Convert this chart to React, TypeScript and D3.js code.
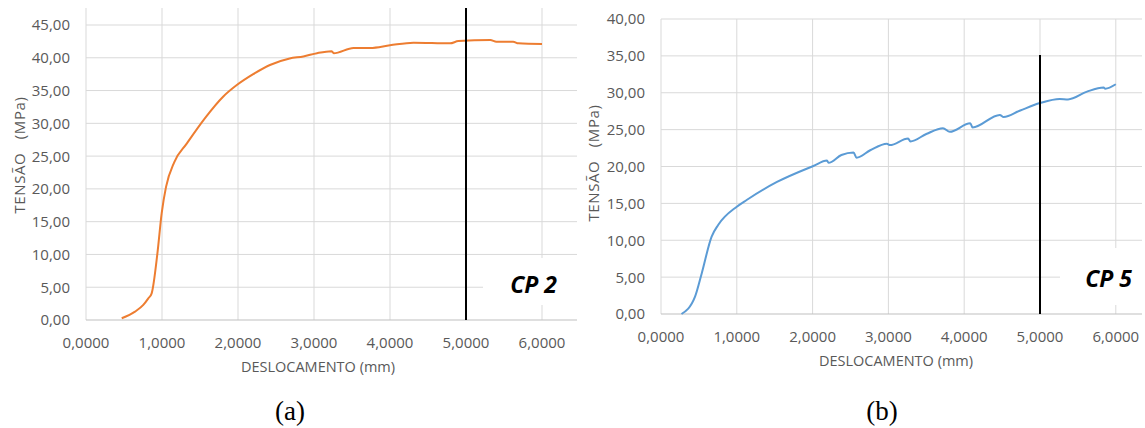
import React from 'react'
import * as d3 from 'd3'

// CP 2 (orange) - deslocamento (mm) x tensão (MPa)
const cp2X = [0.47, 0.645, 0.754, 0.82, 0.864, 0.94, 0.996, 1.053, 1.162, 1.325, 1.566, 1.807, 1.98, 2.2, 2.42, 2.68, 2.86, 3.04, 3.23, 3.26, 3.52, 3.74, 4.0, 4.31, 4.79, 4.9, 5.32, 5.4, 5.62, 5.69, 6.0]
const cp2Y = [0.26, 1.27, 2.3, 3.3, 4.07, 10.2, 16.3, 20.3, 24.1, 26.9, 30.8, 34.1, 35.8, 37.5, 38.9, 39.9, 40.2, 40.7, 41.0, 40.7, 41.5, 41.5, 41.9, 42.3, 42.2, 42.55, 42.7, 42.45, 42.45, 42.2, 42.1]

// CP 5 (blue)
const cp5X = [0.27, 0.449, 0.537, 0.668, 0.756, 1.0, 1.13, 1.53, 2.01, 2.19, 2.21, 2.38, 2.54, 2.58, 2.76, 2.98, 3.02, 3.26, 3.29, 3.5, 3.72, 3.81, 4.08, 4.11, 4.47, 4.52, 4.74, 5.0, 5.26, 5.37, 5.62, 5.84, 5.86, 6.0]
const cp5Y = [0.0, 2.35, 5.5, 10.5, 12.1, 14.55, 15.46, 17.9, 20.07, 20.8, 20.5, 21.56, 21.9, 21.2, 22.2, 23.1, 22.9, 23.8, 23.4, 24.4, 25.2, 24.7, 25.86, 25.3, 27.0, 26.7, 27.6, 28.6, 29.15, 29.1, 30.15, 30.7, 30.55, 31.15]

const xTicks = [0, 1, 2, 3, 4, 5, 6]
const yTicksA = [0, 5, 10, 15, 20, 25, 30, 35, 40, 45]
const yTicksB = [0, 5, 10, 15, 20, 25, 30, 35, 40]

const ptBR = d3.formatLocale({ decimal: ',', thousands: '.', grouping: [3], currency: ['', ''] })
const fmtY = ptBR.format('.2f')
const fmtX = ptBR.format('.4f')

const font = "'Open Sans', 'Liberation Sans', sans-serif"
const grid = '#d9d9d9'
const tickColor = '#595959'

type PanelProps = {
  xs: number[]
  ys: number[]
  yTicks: number[]
  color: string
  left: number
  right: number
  top: number
  y0: number
  yMaxPx: number
  yMax: number
  unitX: number
  markerTop: number
  label: string
  labelX: number
  labelY: number
  box: [number, number, number, number]
  xLabelY: number
  titleX: number
  titleY: number
  yTitleX: number
  yTitleY: number
}

const Panel = (p: PanelProps) => {
  const x = d3.scaleLinear().domain([0, 1]).range([p.left, p.left + p.unitX])
  const y = d3.scaleLinear().domain([0, p.yMax]).range([p.y0, p.yMaxPx])
  const pts = p.xs.map((v, i) => [v, p.ys[i]] as [number, number])
  const line = d3.line<[number, number]>().x(d => x(d[0])).y(d => y(d[1])).curve(d3.curveMonotoneX)

  return (
    <g>
      {/* vertical gridlines */}
      {xTicks.filter(t => t > 0).map(t => (
        <line key={'vx' + t} x1={x(t)} x2={x(t)} y1={p.top} y2={p.y0} stroke={grid} strokeWidth={1} />
      ))}
      {/* horizontal gridlines */}
      {p.yTicks.filter(t => t > 0).map(t => (
        <line key={'hy' + t} x1={p.left} x2={p.right} y1={y(t)} y2={y(t)} stroke={grid} strokeWidth={1} />
      ))}
      {/* axis lines */}
      <line x1={p.left} x2={p.left} y1={p.top} y2={p.y0} stroke={grid} strokeWidth={1} />
      <line x1={p.left} x2={p.right} y1={p.y0} y2={p.y0} stroke="#bfbfbf" strokeWidth={1.2} />

      {/* label box */}
      <rect x={p.box[0]} y={p.box[1]} width={p.box[2]} height={p.box[3]} fill="#fff" />

      <path d={line(pts) ?? ''} fill="none" stroke={p.color} strokeWidth={2} strokeLinejoin="round" />

      {/* marker at 5 mm */}
      <line x1={x(5)} x2={x(5)} y1={p.markerTop} y2={p.y0} stroke="#000" strokeWidth={2} />

      <text x={p.labelX} y={p.labelY} textAnchor="end" fontFamily={font} fontWeight={700} fontStyle="italic" fontSize={23} fill="#000">
        {p.label}
      </text>

      {p.yTicks.map(t => (
        <text key={'ty' + t} x={p.left - 16} y={y(t)} dy="0.36em" textAnchor="end" fontFamily={font} fontSize={15} fill={tickColor}>
          {fmtY(t)}
        </text>
      ))}
      {xTicks.map(t => (
        <text key={'tx' + t} x={x(t)} y={p.xLabelY} textAnchor="middle" fontFamily={font} fontSize={15} fill={tickColor}>
          {fmtX(t)}
        </text>
      ))}
      <text x={p.titleX} y={p.titleY} textAnchor="middle" fontFamily={font} fontSize={14.5} fill={tickColor}>
        DESLOCAMENTO (mm)
      </text>
      <text
        transform={`translate(${p.yTitleX},${p.yTitleY}) rotate(-90)`}
        textAnchor="middle"
        dy="0.36em"
        fontFamily={font}
        fontSize={15}
        letterSpacing={0.6}
        fill={tickColor}
        style={{ whiteSpace: 'pre' }}
      >
        {'TENSÃO   (MPa)'}
      </text>
    </g>
  )
}

const App = () => {
  return (
    <div style={{ position: 'absolute', left: 0, top: 0 }}>
      <svg width={1145} height={428} style={{ display: 'block', background: '#fff' }}>
        <Panel
          xs={cp2X}
          ys={cp2Y}
          yTicks={yTicksA}
          color="#ed7d31"
          left={86}
          right={577}
          top={8}
          y0={320}
          yMaxPx={25}
          yMax={45}
          unitX={76}
          markerTop={8}
          label="CP 2"
          labelX={557}
          labelY={293}
          box={[483, 258, 94, 47]}
          xLabelY={348}
          titleX={318}
          titleY={372}
          yTitleX={20}
          yTitleY={155}
        />
        <Panel
          xs={cp5X}
          ys={cp5Y}
          yTicks={yTicksB}
          color="#5b9bd5"
          left={661}
          right={1142}
          top={19}
          y0={314}
          yMaxPx={19}
          yMax={40}
          unitX={75.8}
          markerTop={55}
          label="CP 5"
          labelX={1132}
          labelY={287}
          box={[1060, 248, 85, 57]}
          xLabelY={342}
          titleX={896}
          titleY={366}
          yTitleX={594}
          yTitleY={163}
        />
        <text x={290} y={420} textAnchor="middle" fontFamily="'Liberation Serif', 'DejaVu Serif', serif" fontSize={27} fill="#000">
          (a)
        </text>
        <text x={882} y={420} textAnchor="middle" fontFamily="'Liberation Serif', 'DejaVu Serif', serif" fontSize={27} fill="#000">
          (b)
        </text>
      </svg>
    </div>
  )
}

export default App
